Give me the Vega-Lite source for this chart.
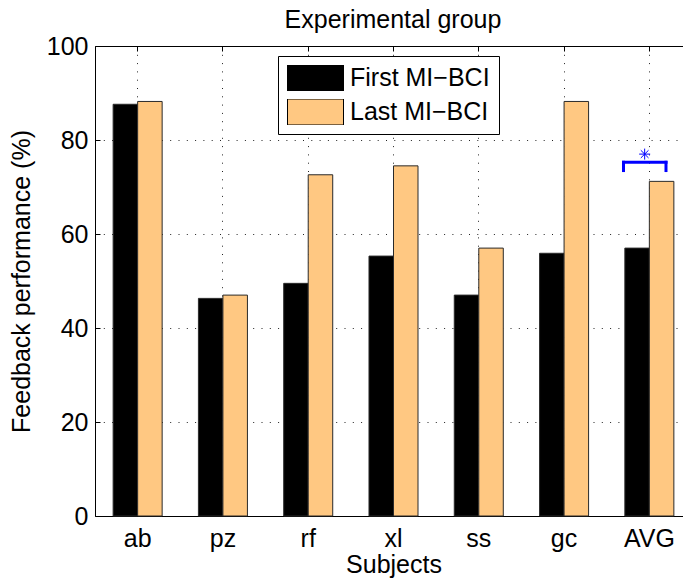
{
  "$schema": "https://vega.github.io/schema/vega-lite/v6.json",
  "width": 588,
  "height": 470,
  "autosize": {"type": "none"},
  "padding": {"left": 95, "top": 46, "right": 0, "bottom": 63},
  "background": "white",
  "config": {
    "view": {"stroke": null},
    "font": "Liberation Sans",
    "axis": {
      "labelFont": "Liberation Sans",
      "titleFont": "Liberation Sans",
      "labelFontSize": 25,
      "titleFontSize": 25,
      "titleFontWeight": "normal",
      "labelColor": "#000",
      "titleColor": "#000",
      "domainColor": "#000",
      "tickColor": "#000",
      "domainWidth": 1,
      "tickWidth": 1
    }
  },
  "title": {
    "text": "Experimental group",
    "font": "Liberation Sans",
    "fontSize": 25,
    "fontWeight": "normal",
    "color": "#000",
    "anchor": "middle",
    "dx": 4,
    "baseline": "alphabetic",
    "offset": -19
  },
  "datasets": {
    "perf": [
      {"subject": "ab", "session": "First MI−BCI", "value": 87.6},
      {"subject": "ab", "session": "Last MI−BCI", "value": 88.2},
      {"subject": "pz", "session": "First MI−BCI", "value": 46.3},
      {"subject": "pz", "session": "Last MI−BCI", "value": 47.0},
      {"subject": "rf", "session": "First MI−BCI", "value": 49.5},
      {"subject": "rf", "session": "Last MI−BCI", "value": 72.6},
      {"subject": "xl", "session": "First MI−BCI", "value": 55.3},
      {"subject": "xl", "session": "Last MI−BCI", "value": 74.5},
      {"subject": "ss", "session": "First MI−BCI", "value": 47.0},
      {"subject": "ss", "session": "Last MI−BCI", "value": 57.0},
      {"subject": "gc", "session": "First MI−BCI", "value": 55.9},
      {"subject": "gc", "session": "Last MI−BCI", "value": 88.2},
      {"subject": "AVG", "session": "First MI−BCI", "value": 57.0},
      {"subject": "AVG", "session": "Last MI−BCI", "value": 71.2}
    ],
    "bracket": [
      {"subject": "AVG", "low": 73.5, "high": 75.26}
    ],
    "star": [
      {"subject": "AVG", "level": 77.0}
    ]
  },
  "resolve": {"axis": {"x": "independent"}},
  "layer": [
    {
      "data": {"name": "perf"},
      "mark": {"type": "bar", "stroke": "#2a2a2a", "strokeWidth": 1},
      "encoding": {
        "x": {
          "field": "subject",
          "type": "nominal",
          "sort": null,
          "scale": {
            "domain": ["ab", "pz", "rf", "xl", "ss", "gc", "AVG"],
            "range": [0, 597],
            "paddingInner": 0,
            "paddingOuter": 0
          },
          "axis": {
            "orient": "bottom",
            "title": "Subjects",
            "titlePadding": 1,
            "labelAngle": 0,
            "labelPadding": 15,
            "labelBaseline": "top",
            "tickSize": -5,
            "bandPosition": 0.5,
            "grid": true,
            "gridColor": "#222",
            "gridDash": [1, 7.3],
            "gridWidth": 1
          }
        },
        "xOffset": {
          "field": "session",
          "type": "nominal",
          "scale": {"paddingInner": 0, "paddingOuter": 0.74}
        },
        "y": {
          "field": "value",
          "type": "quantitative",
          "scale": {"domain": [0, 100], "nice": false},
          "axis": {
            "title": "Feedback performance (%)",
            "values": [0, 20, 40, 60, 80, 100],
            "tickSize": -5,
            "labelPadding": 12,
            "titlePadding": 12,
            "grid": true,
            "gridColor": "#222",
            "gridDash": [1, 7.3],
            "gridWidth": 1
          }
        },
        "color": {
          "field": "session",
          "type": "nominal",
          "scale": {"domain": ["First MI−BCI", "Last MI−BCI"], "range": ["#000000", "#FFC882"]},
          "legend": {
            "title": null,
            "orient": "none",
            "legendX": 183,
            "legendY": 10,
            "direction": "vertical",
            "symbolType": "M-1,-0.464L1,-0.464L1,0.464L-1,0.464Z",
            "symbolSize": 3136,
            "symbolStrokeColor": "#000",
            "symbolStrokeWidth": 1,
            "symbolOpacity": 1,
            "clipHeight": 26,
            "rowPadding": 8,
            "labelOffset": 6,
            "labelFont": "Liberation Sans",
            "labelFontSize": 25,
            "labelColor": "#000",
            "labelLimit": 400,
            "strokeColor": "#000",
            "fillColor": "#fff",
            "padding": 9
          }
        }
      }
    },
    {
      "data": {"name": "bracket"},
      "mark": {"type": "rule", "color": "#0000FF", "strokeWidth": 3, "strokeCap": "square"},
      "encoding": {
        "x": {
          "field": "subject",
          "type": "nominal",
          "sort": null,
          "bandPosition": 0.197,
          "axis": {
            "orient": "top",
            "title": null,
            "labels": false,
            "tickSize": -5,
            "bandPosition": 0.5,
            "grid": false
          }
        },
        "x2": {"field": "subject", "bandPosition": 0.695},
        "y": {"field": "high", "type": "quantitative"}
      }
    },
    {
      "data": {"name": "bracket"},
      "mark": {"type": "rule", "color": "#0000FF", "strokeWidth": 3, "strokeCap": "square"},
      "encoding": {
        "x": {"field": "subject", "type": "nominal", "sort": null, "bandPosition": 0.197, "axis": null},
        "y": {"field": "low", "type": "quantitative"},
        "y2": {"field": "high"}
      }
    },
    {
      "data": {"name": "bracket"},
      "mark": {"type": "rule", "color": "#0000FF", "strokeWidth": 3, "strokeCap": "square"},
      "encoding": {
        "x": {"field": "subject", "type": "nominal", "sort": null, "bandPosition": 0.695, "axis": null},
        "y": {"field": "low", "type": "quantitative"},
        "y2": {"field": "high"}
      }
    },
    {
      "data": {"name": "star"},
      "mark": {
        "type": "point",
        "shape": "M0,-1L0,1M-1,0L1,0M-0.7,-0.7L0.7,0.7M-0.7,0.7L0.7,-0.7",
        "size": 121,
        "filled": false,
        "stroke": "#0000FF",
        "strokeWidth": 1,
        "opacity": 1
      },
      "encoding": {
        "x": {"field": "subject", "type": "nominal", "sort": null, "bandPosition": 0.445, "axis": null},
        "y": {"field": "level", "type": "quantitative"}
      }
    }
  ]
}
